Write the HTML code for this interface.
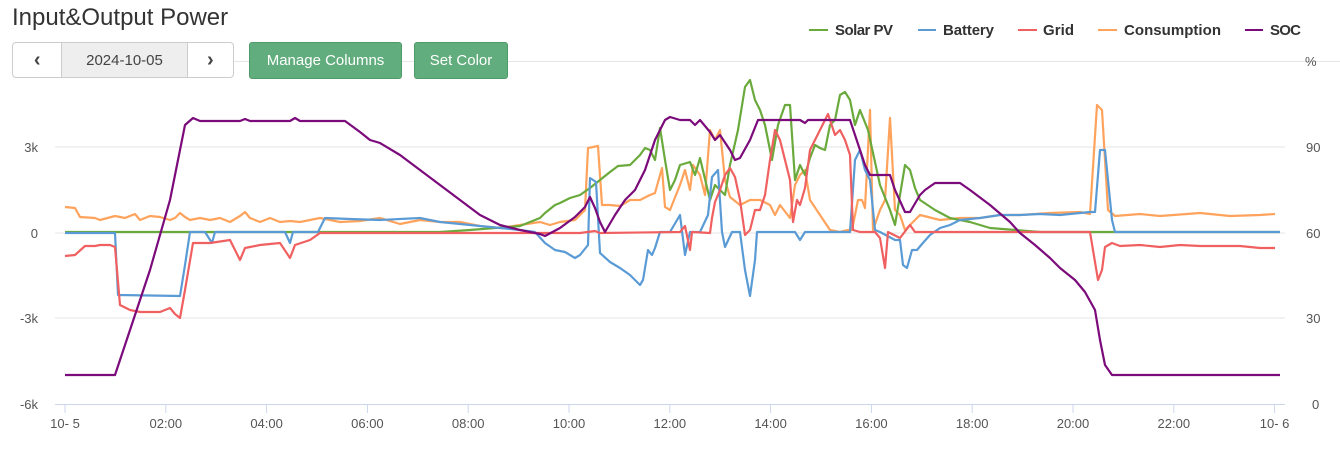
<!DOCTYPE html>
<html><head><meta charset="utf-8"><style>
body{margin:0;width:1340px;height:450px;background:#fff;font-family:"Liberation Sans",sans-serif;overflow:hidden;position:relative}
.t{position:absolute;left:12px;top:4px;font-size:24px;color:#333}
.grp{position:absolute;left:12px;top:42px;height:36px;width:222px;border:1px solid #ccc;border-radius:4px;display:flex;box-sizing:border-box}
.grp div{display:flex;align-items:center;justify-content:center;font-size:15px;color:#444}
.btn{position:absolute;top:42px;height:37px;background:#62ad7d;border:1px solid #4f9a69;border-radius:3px;color:#fff;font-size:15px;display:flex;align-items:center;justify-content:center;box-sizing:border-box}
</style></head><body>
<div class="t">Input&amp;Output Power</div>
<div style="position:absolute;left:234px;top:61px;width:1106px;height:1px;background:#e6e6e6"></div>
<div class="grp"><div style="width:49px;font-size:20px;font-weight:bold">&#x2039;</div><div style="width:126px;background:#eee;border-left:1px solid #ccc;border-right:1px solid #ccc">2024-10-05</div><div style="width:46px;font-size:20px;font-weight:bold">&#x203A;</div></div>
<div class="btn" style="left:249px;width:153px">Manage Columns</div>
<div class="btn" style="left:414px;width:94px">Set Color</div>
<svg width="1340" height="450" style="position:absolute;left:0;top:0" font-family="Liberation Sans, sans-serif">
<g stroke="#e6e6e6"><line x1="55" x2="1285" y1="147" y2="147"/><line x1="55" x2="1285" y1="233" y2="233"/><line x1="55" x2="1285" y1="318" y2="318"/></g>
<line x1="55" x2="1285" y1="404.5" y2="404.5" stroke="#ccd6eb"/>
<g font-size="13" fill="#555" text-anchor="end"><text x="38" y="152">3k</text><text x="38" y="238">0</text><text x="38" y="323">-3k</text><text x="38" y="409">-6k</text></g>
<g font-size="13" fill="#555"><text x="1305" y="66">%</text><text x="1306" y="152">90</text><text x="1306" y="238">60</text><text x="1306" y="323">30</text><text x="1312" y="409">0</text></g>
<g id="xt" font-size="13" fill="#555" text-anchor="middle"></g>
<g font-size="15" font-weight="bold" fill="#333">
<line x1="809" x2="828" y1="30" y2="30" stroke="#6aaa3c" stroke-width="2"/><text x="835" y="35" textLength="58">Solar PV</text>
<line x1="918" x2="936" y1="30" y2="30" stroke="#5b9bd5" stroke-width="2"/><text x="943" y="35" textLength="51">Battery</text>
<line x1="1018" x2="1037" y1="30" y2="30" stroke="#f06060" stroke-width="2"/><text x="1043" y="35" textLength="31">Grid</text>
<line x1="1098" x2="1117" y1="30" y2="30" stroke="#ffa35c" stroke-width="2"/><text x="1124" y="35" textLength="97">Consumption</text>
<line x1="1245" x2="1263" y1="30" y2="30" stroke="#7b0a7b" stroke-width="2"/><text x="1270" y="35" textLength="31">SOC</text>
</g>
<g fill="none" stroke-width="2.2" stroke-linejoin="round">
<polyline stroke="#ffa35c" points="65,207 75,208 80,217 95,218 100,220 115,216 125,218 135,214 140,220 150,216 160,217 170,220 175,218 180,213 185,217 190,220 200,218 210,220 220,218 230,222 240,216 245,212 250,218 260,222 270,218 280,222 290,221 300,222 320,218 340,222 360,221 380,218 400,224 420,220 440,222 460,222 480,226 500,228 520,225 540,222 550,225 560,222 575,220 585,210 588,148 598,146 602,205 610,205 620,206 630,200 640,200 650,195 655,193 662,168 665,207 670,210 680,185 685,170 690,190 693,165 700,175 705,195 710,130 715,140 720,130 725,180 730,197 740,205 750,200 760,200 770,205 775,215 780,205 790,218 795,185 800,175 805,170 810,200 820,215 830,230 840,232 848,230 852,230 858,200 862,200 865,208 870,110 873,230 880,210 885,200 890,118 895,210 900,215 905,230 920,215 940,220 960,218 980,218 1000,215 1020,215 1050,213 1080,212 1090,214 1097,105 1102,110 1108,210 1115,216 1140,214 1160,216 1200,213 1230,216 1260,215 1275,214"/>
<polyline stroke="#6aaa3c" points="65,232 440,232 470,230 520,226 530,222 540,218 545,213 555,205 560,203 570,198 580,195 590,188 600,180 610,172 618,166 630,165 640,155 645,148 650,150 655,160 660,128 665,160 670,190 675,180 680,165 690,162 695,175 700,158 710,200 715,185 725,195 730,165 738,130 745,87 750,80 755,100 760,110 765,125 772,160 778,125 785,105 790,105 795,180 800,165 805,175 810,158 815,145 820,148 825,150 830,125 835,120 840,95 845,92 850,100 855,125 860,110 868,130 880,185 890,210 895,225 900,195 905,165 910,170 915,188 920,200 935,210 950,218 970,222 990,228 1040,232 1280,232"/>
<polyline stroke="#5b9bd5" points="65,233 115,233 118,295 180,296 185,265 190,232 205,232 212,243 215,232 285,232 290,243 293,232 318,232 325,218 350,219 380,220 420,218 440,222 470,225 500,228 520,230 535,232 545,243 555,250 565,252 575,258 580,255 588,245 590,178 596,182 600,253 610,262 620,268 630,275 640,285 643,280 648,250 652,255 655,248 660,232 670,232 680,215 685,255 690,232 700,232 708,215 712,177 718,170 722,232 725,247 732,232 740,232 745,270 750,296 755,260 757,232 795,232 800,240 805,232 850,232 855,160 860,150 865,170 870,180 875,230 880,232 895,240 900,240 903,265 907,268 912,250 917,250 922,244 930,235 940,228 950,225 960,220 980,218 1000,215 1020,215 1040,214 1060,215 1080,213 1090,212 1095,212 1100,150 1105,150 1112,220 1115,232 1280,232"/>
<polyline stroke="#f06060" points="65,256 75,255 85,246 95,246 100,245 110,245 115,247 120,305 130,310 140,312 160,312 170,308 175,314 180,318 185,290 193,243 210,243 230,240 240,260 245,248 260,245 280,243 290,258 295,245 310,240 320,233 580,233 595,231 600,233 680,232 685,226 690,250 692,232 710,233 712,218 715,202 720,190 725,175 730,168 735,177 740,200 745,235 750,230 755,210 760,210 765,195 770,160 775,130 780,140 785,160 790,180 793,222 797,200 800,205 805,188 810,150 820,130 828,114 835,135 840,130 845,140 850,155 853,230 860,232 875,232 880,238 885,268 888,232 900,238 910,225 915,232 1090,232 1098,280 1102,270 1105,247 1112,243 1120,246 1140,245 1160,247 1180,245 1200,246 1240,246 1260,248 1275,248"/>
<polyline stroke="#7b0a7b" points="65,375 115,375 130,330 150,270 170,200 185,125 193,118 200,121 240,121 245,119 250,121 290,121 295,118 300,121 345,121 360,132 370,140 380,143 400,155 420,170 440,185 460,200 480,215 500,225 520,230 540,234 545,236 560,228 575,217 585,207 590,197 595,208 600,222 605,232 615,215 625,200 635,190 645,170 655,140 665,120 670,117 680,120 690,120 695,125 700,120 710,132 715,140 720,135 730,150 735,160 740,158 750,140 758,120 800,120 805,123 808,120 850,120 855,135 865,165 870,175 890,175 895,190 905,212 910,212 920,195 925,190 935,183 960,183 970,190 990,205 1010,222 1020,233 1035,245 1050,258 1060,268 1075,280 1085,292 1095,310 1100,340 1105,365 1112,375 1280,375"/>
</g>
</svg>
<script>
var g=document.getElementById('xt'),l=['10- 5','02:00','04:00','06:00','08:00','10:00','12:00','14:00','16:00','18:00','20:00','22:00','10- 6'],s='';
for(var i=0;i<13;i++){var x=65+i*100.8;s+='<line x1="'+x+'" x2="'+x+'" y1="405" y2="413" stroke="#ccd6eb"/><text x="'+x+'" y="428">'+l[i]+'</text>';}
g.innerHTML=s;
</script>
</body></html>
